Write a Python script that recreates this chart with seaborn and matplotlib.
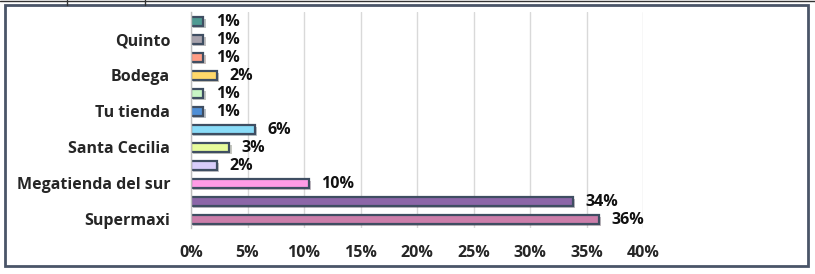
import matplotlib
matplotlib.use("Agg")
import matplotlib.pyplot as plt
import matplotlib.patheffects as pe
from matplotlib.lines import Line2D
from matplotlib.patches import Rectangle
import seaborn as sns
import pandas as pd
import numpy as np

# categories listed top to bottom (Excel only labels every other one)
categories = ["c12", "Quinto", "c10", "Bodega", "c8", "Tu tienda",
              "c6", "Santa Cecilia", "c4", "Megatienda del sur", "c2", "Supermaxi"]
tick_labels = ["", "Quinto", "", "Bodega", "", "Tu tienda",
               "", "Santa Cecilia", "", "Megatienda del sur", "", "Supermaxi"]
shares = [1.1, 1.1, 1.1, 2.3, 1.1, 1.1, 5.7, 3.4, 2.3, 10.4, 33.8, 36.1]
colors = ["#4e9a92", "#a7a2ac", "#ff9d85", "#ffd86a", "#c8f5c4", "#4f8fd6",
          "#8adcf8", "#e6fb9c", "#d8cdfb", "#ff9be6", "#8c66a8", "#cc7eaa"]
x_ticks = [0, 5, 10, 15, 20, 25, 30, 35, 40]

df = pd.DataFrame({"store": categories, "share": shares})

sns.set_theme(style="white")
plt.rcParams["font.family"] = ["Open Sans", "DejaVu Sans"]
plt.rcParams["font.weight"] = "bold"
FS = 11.5

fig = plt.figure(figsize=(8.15, 2.74), dpi=100)
ax = fig.add_axes([191 / 815, 1 - 228 / 274, 452 / 815, 216 / 274])

sns.barplot(data=df, x="share", y="store", hue="store", palette=colors,
            order=categories, hue_order=categories, legend=False,
            width=0.5, orient="h", ax=ax, edgecolor="#3f4e62", linewidth=1.6,
            saturation=1)

for patch in ax.patches:
    patch.set_path_effects([pe.SimplePatchShadow(offset=(1.5, -1.5), alpha=0.3),
                            pe.Normal()])

for i, v in enumerate(shares):
    ax.annotate(f"{v:.0f}%", xy=(v, i), xytext=(9, -1), textcoords="offset points",
                ha="left", va="center", fontsize=FS, fontweight="bold", color="#111111")

ax.set_xlim(0, 40)
ax.set_ylim(len(categories) - 0.5, -0.5)
ax.set_xticks(x_ticks)
ax.set_xticklabels([f"{t}%" for t in x_ticks], fontsize=FS, fontweight="bold")
ax.set_yticks(range(len(categories)))
ax.set_yticklabels(tick_labels, fontsize=FS, fontweight="bold")
ax.tick_params(axis="y", length=0, pad=15)
ax.tick_params(axis="x", length=0, pad=12)
ax.set_yticks(np.arange(-0.5, len(categories), 1), minor=True)
ax.tick_params(axis="y", which="minor", length=5, color="#bfbfbf", width=1)
ax.set_xlabel("")
ax.set_ylabel("")

ax.grid(axis="x", color="#d9d9d9", linewidth=1)
ax.set_axisbelow(True)
for side in ["top", "right", "bottom"]:
    ax.spines[side].set_visible(False)
ax.spines["left"].set_color("#bfbfbf")
ax.spines["left"].set_linewidth(1)

# outer chart frame
fig.patches.append(Rectangle((5 / 815, 1 - 266 / 274), 803 / 815, 261 / 274,
                             transform=fig.transFigure, fill=False,
                             edgecolor="#4a5568", linewidth=2))
# cut-off table lines above the chart
fig.lines.append(Line2D([0, 1], [1 - 1 / 274, 1 - 1 / 274], transform=fig.transFigure,
                        color="#333333", linewidth=1))
for xp in [67, 145]:
    fig.lines.append(Line2D([xp / 815, xp / 815], [1, 1 - 5 / 274],
                            transform=fig.transFigure, color="#333333", linewidth=1))

fig.savefig("out.png", dpi=100)
